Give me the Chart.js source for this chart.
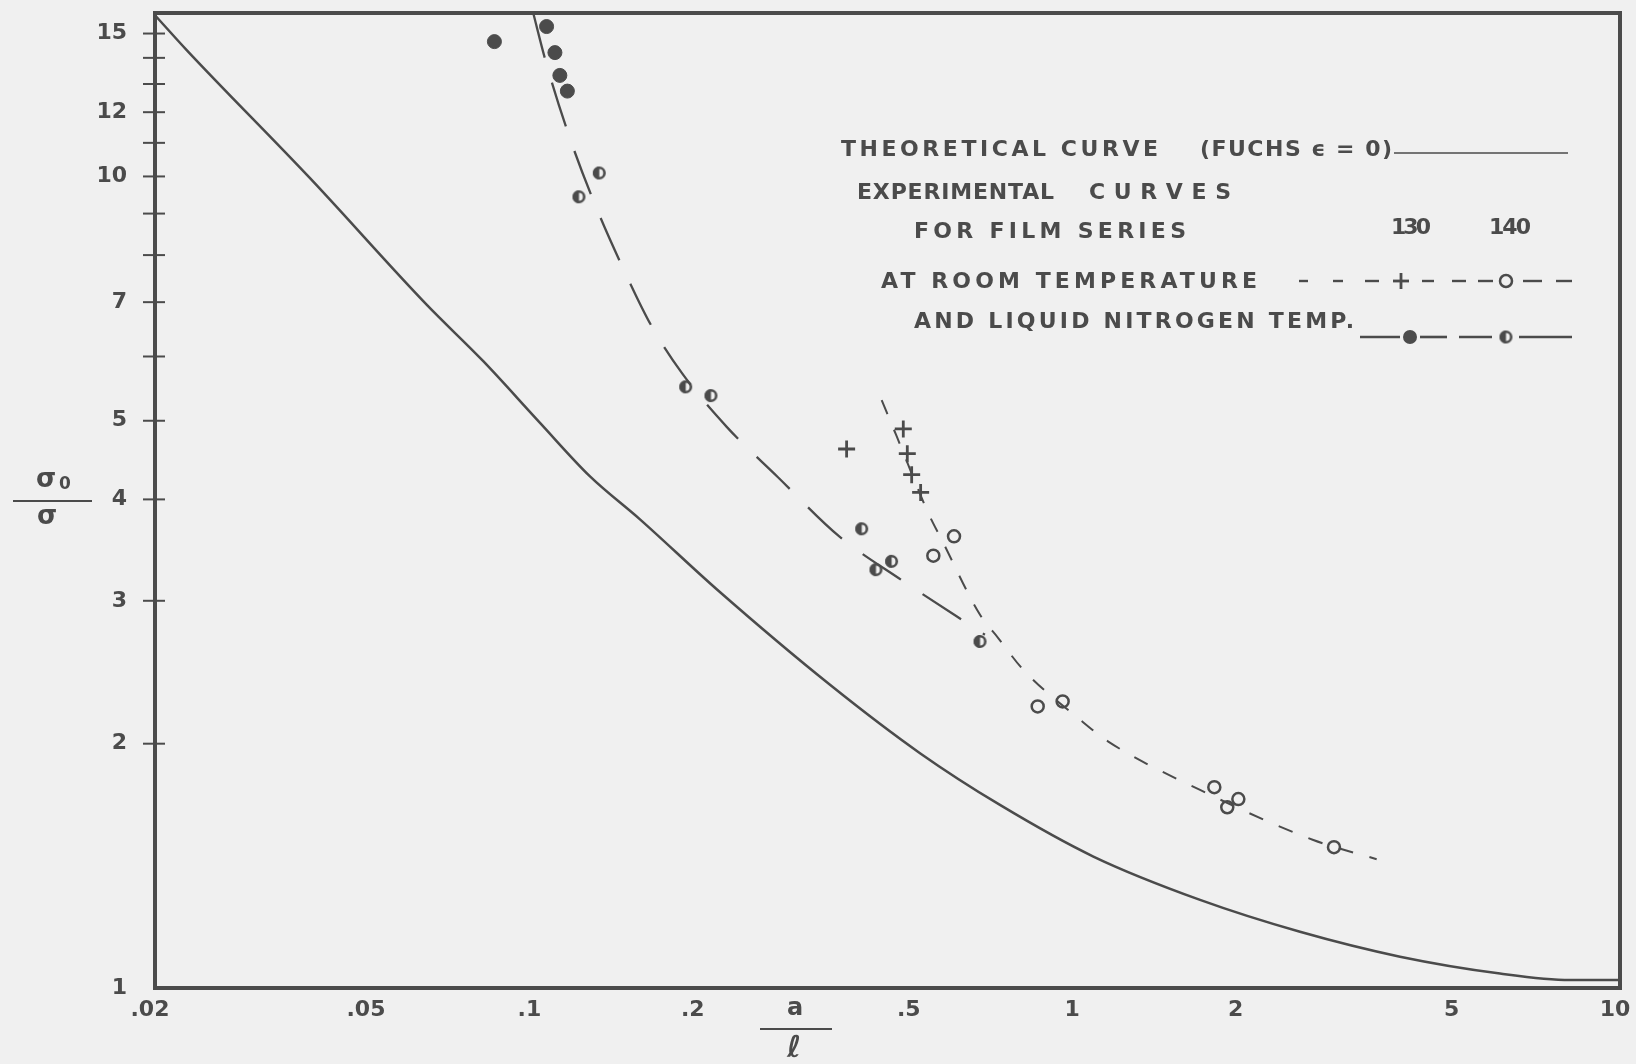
<!DOCTYPE html>
<html><head><meta charset="utf-8">
<script src="https://cdn.jsdelivr.net/npm/chart.js@4.4.1/dist/chart.umd.min.js"></script>
<style>html,body{margin:0;padding:0;background:#f0f0f0;}canvas{display:block;}</style>
</head><body>
<canvas id="c" width="1636" height="1064"></canvas>
<script>
// ---------- data ----------
const xTickValues = [0.02, 0.05, 0.1, 0.2, 0.5, 1, 2, 5, 10];
const xTickLabels = ['.02', '.05', '.1', '.2', '.5', '1', '2', '5', '10'];
const yTickValues = [1, 2, 3, 4, 5, 6, 7, 8, 9, 10, 11, 12, 13, 14, 15];
const yTickLabels = ['1', '2', '3', '4', '5', '', '7', '', '', '10', '', '12', '', '', '15'];

// theoretical curve (Fuchs, epsilon = 0)
const theoryX = [0.02, 0.0229, 0.0386, 0.0633, 0.0805, 0.1024, 0.1266, 0.1565, 0.2167, 0.3504, 0.5133, 0.7206, 1.071, 1.684, 2.573, 3.933, 6.01, 8.09, 10];
const theoryY = [15.8, 14.3, 9.95, 6.95, 5.92, 4.97, 4.27, 3.78, 3.10, 2.364, 1.947, 1.681, 1.452, 1.284, 1.173, 1.093, 1.042, 1.023, 1.023];

// experimental curve, liquid nitrogen temperature (long dashes)
const lnCurveX = [0.0995, 0.1049, 0.1158, 0.1297, 0.148, 0.1644, 0.1873, 0.2261, 0.2807, 0.3644, 0.4735, 0.676];
const lnCurveY = [15.9, 13.87, 11.23, 9.19, 7.535, 6.54, 5.715, 4.914, 4.263, 3.602, 3.185, 2.725];

// experimental curve, room temperature (short dashes)
const rtCurveX = [0.4363, 0.4649, 0.5317, 0.5628, 0.6622, 0.7153, 0.7959, 1.012, 1.141, 1.684, 2.723, 3.562];
const rtCurveY = [5.30, 4.785, 3.848, 3.567, 2.884, 2.699, 2.466, 2.141, 2.012, 1.754, 1.522, 1.441];

// measured points
const ln130X = [0.0844, 0.1053, 0.1091, 0.1114, 0.115];
const ln130Y = [14.66, 15.30, 14.21, 13.32, 12.74];
const ln140X = [0.1208, 0.1317, 0.19, 0.2115, 0.4009, 0.4259, 0.4551, 0.6622];
const ln140Y = [9.44, 10.10, 5.505, 5.37, 3.68, 3.277, 3.355, 2.673];
const rt130X = [0.376, 0.4782, 0.4864, 0.4955, 0.5147];
const rt130Y = [4.615, 4.886, 4.554, 4.291, 4.08];
const rt140X = [0.5432, 0.593, 0.8457, 0.9401, 1.789, 1.890, 1.981, 2.972];
const rt140Y = [3.41, 3.602, 2.223, 2.255, 1.768, 1.670, 1.709, 1.491];

const legendLines = ['THEORETICAL CURVE', '(FUCHS \u03F5 = 0)', 'EXPERIMENTAL', 'CURVES', 'FOR FILM SERIES', '130', '140', 'AT ROOM TEMPERATURE', 'AND LIQUID NITROGEN TEMP.'];

// ---------- styling ----------
const INK = '#4b4b4b';
const BG = '#f0f0f0';
const FONT = '"DejaVu Sans", sans-serif';

const pts = (xs, ys) => xs.map((x, i) => ({ x: x, y: ys[i] }));

function halfDot(r) {
  const s = Math.ceil(2 * r + 4);
  const c = document.createElement('canvas');
  c.width = s; c.height = s;
  const g = c.getContext('2d');
  const m = s / 2;
  g.fillStyle = INK;
  g.beginPath(); g.arc(m, m, r, Math.PI / 2, 3 * Math.PI / 2); g.closePath(); g.fill();
  g.strokeStyle = INK; g.lineWidth = 2.6;
  g.beginPath(); g.arc(m, m, r - 1.3, 0, 2 * Math.PI); g.stroke();
  return c;
}
const HALF = halfDot(6.5);

function fitText(ctx, s, x0, x1, cy, size) {
  ctx.font = '600 ' + size + 'px ' + FONT;
  ctx.letterSpacing = '0px';
  const w = ctx.measureText(s).width;
  const n = [...s].length;
  const sp = n > 1 ? (x1 - x0 - w) / (n - 1) : 0;
  ctx.letterSpacing = sp + 'px';
  ctx.textAlign = 'left'; ctx.textBaseline = 'middle';
  ctx.fillText(s, x0, cy);
  ctx.letterSpacing = '0px';
}
function seg(ctx, x0, y0, x1, y1) { ctx.beginPath(); ctx.moveTo(x0, y0); ctx.lineTo(x1, y1); ctx.stroke(); }

const decor = {
  id: 'decor',
  beforeDraw(chart) {
    const ctx = chart.ctx;
    ctx.save(); ctx.fillStyle = BG; ctx.fillRect(0, 0, chart.width, chart.height); ctx.restore();
  },
  afterDraw(chart) {
    const ctx = chart.ctx, a = chart.chartArea, y = chart.scales.y;
    ctx.save();
    ctx.strokeStyle = INK; ctx.fillStyle = INK; ctx.lineCap = 'butt';
    // frame
    ctx.lineWidth = 4;
    ctx.strokeRect(a.left, a.top, a.right - a.left, a.bottom - a.top);
    // y tick marks crossing the axis
    ctx.lineWidth = 2;
    yTickValues.forEach(v => {
      if (v === 1) return;
      const py = y.getPixelForValue(v);
      seg(ctx, a.left - 12, py, a.left + 10, py);
    });
    // axis titles
    ctx.textAlign = 'center'; ctx.textBaseline = 'middle';
    ctx.font = '600 26px ' + FONT; ctx.fillText('\u03C3', 46, 480);
    ctx.font = '600 17px ' + FONT; ctx.fillText('0', 65, 485);
    ctx.font = '600 26px ' + FONT; ctx.fillText('\u03C3', 47, 517);
    ctx.lineWidth = 2.2; seg(ctx, 13, 501, 92, 501);
    ctx.font = '600 24px ' + FONT; ctx.fillText('a', 795, 1009);
    seg(ctx, 760, 1029, 832, 1029);
    ctx.font = '600 30px ' + FONT; ctx.fillText('\u2113', 794, 1049);
    // legend text
    fitText(ctx, legendLines[0], 841, 1158, 150, 22);
    fitText(ctx, legendLines[1], 1200, 1392, 150, 22);
    fitText(ctx, legendLines[2], 857, 1054, 193, 22);
    fitText(ctx, legendLines[3], 1089, 1231, 193, 22);
    fitText(ctx, legendLines[4], 914, 1186, 232, 22);
    fitText(ctx, legendLines[5], 1391, 1431, 228, 22);
    fitText(ctx, legendLines[6], 1489, 1531, 228, 22);
    fitText(ctx, legendLines[7], 881, 1257, 282, 22);
    fitText(ctx, legendLines[8], 914, 1354, 322, 22);
    // legend samples
    ctx.lineWidth = 1.6; seg(ctx, 1394, 153, 1568, 153);
    ctx.lineWidth = 2.4;
    [[1299, 1308], [1333, 1343], [1365, 1379], [1422, 1434], [1452, 1466], [1478, 1493], [1523, 1542], [1556, 1572]]
      .forEach(s => seg(ctx, s[0], 281, s[1], 281));
    ctx.lineWidth = 2.8; seg(ctx, 1393, 281, 1409, 281); seg(ctx, 1401, 273, 1401, 289);
    ctx.lineWidth = 2.5; ctx.beginPath(); ctx.arc(1506, 281, 6, 0, 2 * Math.PI); ctx.stroke();
    ctx.lineWidth = 2.6;
    [[1360, 1400], [1420, 1447], [1459, 1492], [1519, 1572]].forEach(s => seg(ctx, s[0], 337, s[1], 337));
    ctx.beginPath(); ctx.arc(1410, 337, 7, 0, 2 * Math.PI); ctx.fill();
    ctx.drawImage(HALF, 1506 - HALF.width / 2, 337 - HALF.height / 2);
    ctx.restore();
  }
};

const lineDS = (xs, ys, w, dash, offset) => ({
  type: 'line', data: pts(xs, ys), borderColor: INK, borderWidth: w, borderDash: dash, borderDashOffset: offset || 0,
  pointRadius: 0, fill: false, cubicInterpolationMode: 'monotone', showLine: true
});
const pointDS = (xs, ys, style, r, bw, bg) => ({
  type: 'scatter', data: pts(xs, ys), showLine: false, pointStyle: style, pointRadius: r,
  pointBorderWidth: bw, pointBackgroundColor: bg, pointBorderColor: INK, borderColor: INK, backgroundColor: bg
});

const tickFont = { family: 'DejaVu Sans', size: 22, weight: '600' };

new Chart(document.getElementById('c'), {
  data: {
    datasets: [
      pointDS(ln130X, ln130Y, 'circle', 7, 1, INK),
      pointDS(ln140X, ln140Y, HALF, 7, 0, INK),
      pointDS(rt130X, rt130Y, 'cross', 8.5, 2.8, INK),
      pointDS(rt140X, rt140Y, 'circle', 6, 2.5, 'rgba(0,0,0,0)'),
      lineDS(theoryX, theoryY, 2.5, []),
      lineDS(lnCurveX, lnCurveY, 2.3, [46, 26]),
      lineDS(rtCurveX, rtCurveY, 2.0, [15, 17])
    ]
  },
  plugins: [decor],
  options: {
    responsive: false, animation: false, devicePixelRatio: 1,
    layout: { padding: { left: 0, top: 13, right: 16, bottom: 0 } },
    plugins: { legend: { display: false }, tooltip: { enabled: false } },
    scales: {
      x: {
        type: 'logarithmic', min: 0.02, max: 10,
        afterBuildTicks: s => { s.ticks = xTickValues.map(v => ({ value: v })); },
        afterFit: s => { s.height = 76; s.paddingLeft = 0; s.paddingRight = 0; },
        grid: { display: false, drawTicks: false },
        border: { display: false },
        ticks: {
          autoSkip: false, maxRotation: 0, minRotation: 0, padding: 9, labelOffset: -5,
          color: INK, font: tickFont,
          callback: (v, i) => xTickLabels[i]
        }
      },
      y: {
        type: 'logarithmic', min: 1, max: 15.9,
        afterBuildTicks: s => { s.ticks = yTickValues.map(v => ({ value: v })); },
        afterFit: s => { s.width = 155; s.paddingTop = 0; s.paddingBottom = 0; },
        grid: { display: false, drawTicks: false },
        border: { display: false },
        ticks: {
          autoSkip: false, padding: 28,
          color: INK, font: tickFont,
          callback: (v, i) => yTickLabels[i]
        }
      }
    }
  }
});
</script>
</body></html>
